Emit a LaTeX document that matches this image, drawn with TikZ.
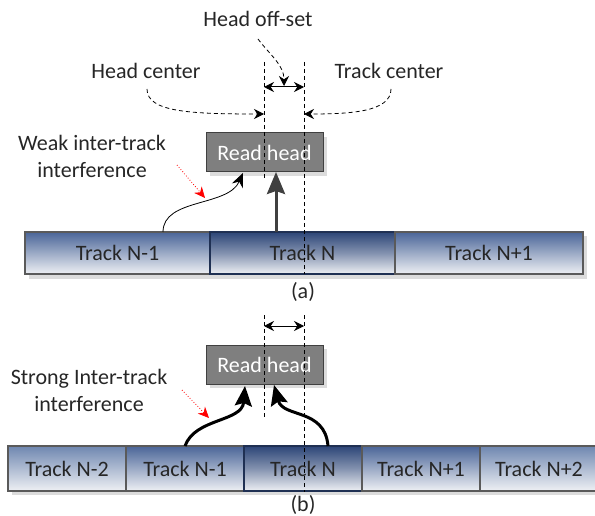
\documentclass[tikz,border=0pt]{standalone}
\usepackage{fontspec}
\setmainfont{Carlito}
\usetikzlibrary{arrows.meta}
\definecolor{txt}{HTML}{262626}
\definecolor{bdark}{HTML}{2C4577}
\definecolor{bmid}{HTML}{4A6598}
\definecolor{blight}{HTML}{6F87B0}
\definecolor{bbot}{HTML}{EEF0F4}
\definecolor{headfill}{HTML}{7F7F7F}
\definecolor{headline}{HTML}{404040}
\definecolor{shadowc}{HTML}{DCDCDC}
\definecolor{edge}{HTML}{5A5A5A}
\begin{document}
\begin{tikzpicture}[x=1pt,y=-1pt,
  font=\fontsize{22}{27}\selectfont,
  lbl/.style={text=txt, inner sep=0pt, align=center},
  trackbase/.style={draw=edge, line width=1.2pt, inner sep=0pt, text=txt,
    bottom color=bbot},
  trackN/.style={trackbase, top color=bdark, middle color=bdark!55!bbot, draw=bdark!70!black},
  trackA/.style={trackbase, top color=bmid, middle color=bmid!50!bbot},
  trackB/.style={trackbase, top color=blight, middle color=blight!50!bbot},
  headbox/.style={draw=headline, fill=headfill, line width=1pt, text=white,
    minimum width=117pt, minimum height=39pt, inner sep=0pt},
  shad/.style={fill=shadowc, draw=none},
  vdash/.style={black, line width=0.8pt, dash pattern=on 4pt off 3pt},
  curvdash/.style={black, line width=0.8pt, dash pattern=on 4pt off 3pt,
    -{Stealth[length=10pt,width=10pt]}},
  offarr/.style={black, line width=1pt, {Stealth[length=10pt,width=10pt]}-{Stealth[length=10pt,width=10pt]}},
  thinarr/.style={black, line width=0.8pt, -{Stealth[length=14pt,width=12pt]}},
  bigarr/.style={black, line width=3pt, -{Stealth[length=20pt,width=17pt,inset=3pt]}},
  grayarr/.style={headline, line width=3pt, -{Stealth[length=22pt,width=18pt,inset=3pt]}},
  redarr/.style={red, line width=0.8pt, dotted, -{Stealth[length=11pt,width=10pt]}}
]
\useasboundingbox (0,0) rectangle (595,516);

% ---------------- (a) ----------------
\fill[shad] (29,236) rectangle (587,279);
\node[trackA, minimum width=185pt, minimum height=42pt] (a1) at (117.5,253) {Track N-1};
\node[trackN, minimum width=185pt, minimum height=42pt] (a2) at (302.5,253) {Track N};
\node[trackA, minimum width=188pt, minimum height=42pt] (a3) at (489,253) {Track N+1};

\fill[shad] (210,137) rectangle (327,176);
\node[headbox] (ha) at (264.5,152.5) {Read head};

\node[lbl] (off) at (258,19) {Head off-set};
\node[lbl] (hc) at (146,71) {Head center};
\node[lbl] (tc) at (389,71) {Track center};
\node[lbl] (weak) at (92,156.5) {Weak inter-track\\interference};
\node[lbl] (capa) at (303,292) {(a)};

\coordinate (l1t) at (264,62);
\coordinate (l1b) at (264,178);
\coordinate (r1t) at (304,62);
\coordinate (r1b) at (304,274);
\draw[vdash] (l1t) -- (l1b);
\draw[vdash] (r1t) -- (r1b);

\coordinate (oL) at (264,87);
\coordinate (oR) at (304,87);
\draw[offarr] (oL) -- (oR);

\coordinate (offs) at (258,39);
\coordinate (offe) at (284,86);
\draw[curvdash] (offs) .. controls (270,55) and (284,65) .. (offe);

\coordinate (hcs) at (147,89);
\coordinate (hce) at (264,114);
\draw[curvdash] (hcs) .. controls (147,112) and (190,114) .. (hce);

\coordinate (tcs) at (391,89);
\coordinate (tce) at (304,114);
\draw[curvdash] (tcs) .. controls (391,112) and (350,114) .. (tce);

\coordinate (t1) at (163,232);
\coordinate (t1e) at (243,173);
\draw[thinarr] (t1) .. controls (163,198) and (228,207) .. (t1e);

\coordinate (g1) at (276,232);
\coordinate (g1e) at (276,172);
\draw[grayarr] (g1) -- (g1e);

\coordinate (rs1) at (177,165);
\coordinate (re1) at (205,198);
\draw[redarr] (rs1) -- (re1);

% ---------------- (b) ----------------
\fill[shad] (12,450) rectangle (600,495);
\node[trackB, minimum width=118pt, minimum height=45pt] (b1) at (67,468.5) {Track N-2};
\node[trackA, minimum width=118pt, minimum height=45pt] (b2) at (185,468.5) {Track N-1};
\node[trackN, minimum width=118pt, minimum height=45pt] (b3) at (303,468.5) {Track N};
\node[trackA, minimum width=118pt, minimum height=45pt] (b4) at (421,468.5) {Track N+1};
\node[trackB, minimum width=118pt, minimum height=45pt] (b5) at (539,468.5) {Track N+2};

\fill[shad] (210,349) rectangle (327,388);
\node[headbox] (hb) at (264.5,364.5) {Read head};

\node[lbl] (strong) at (89,390.5) {Strong Inter-track\\interference};
\node[lbl] (capb) at (303,505) {(b)};

\coordinate (l2t) at (264,315);
\coordinate (l2b) at (264,417);
\coordinate (r2t) at (304,315);
\coordinate (r2b) at (304,492);
\draw[vdash] (l2t) -- (l2b);
\draw[vdash] (r2t) -- (r2b);

\coordinate (o2L) at (264,326);
\coordinate (o2R) at (304,326);
\draw[offarr] (o2L) -- (o2R);

\coordinate (s1) at (185,446);
\coordinate (s1e) at (245,386);
\draw[bigarr] (s1) .. controls (195,418) and (242,422) .. (s1e);

\coordinate (s2) at (328,446);
\coordinate (s2e) at (274,385);
\draw[bigarr] (s2) .. controls (325,408) and (283,418) .. (s2e);

\coordinate (rs2) at (182,390);
\coordinate (re2) at (209,418);
\draw[redarr] (rs2) -- (re2);
\end{tikzpicture}
\end{document}
